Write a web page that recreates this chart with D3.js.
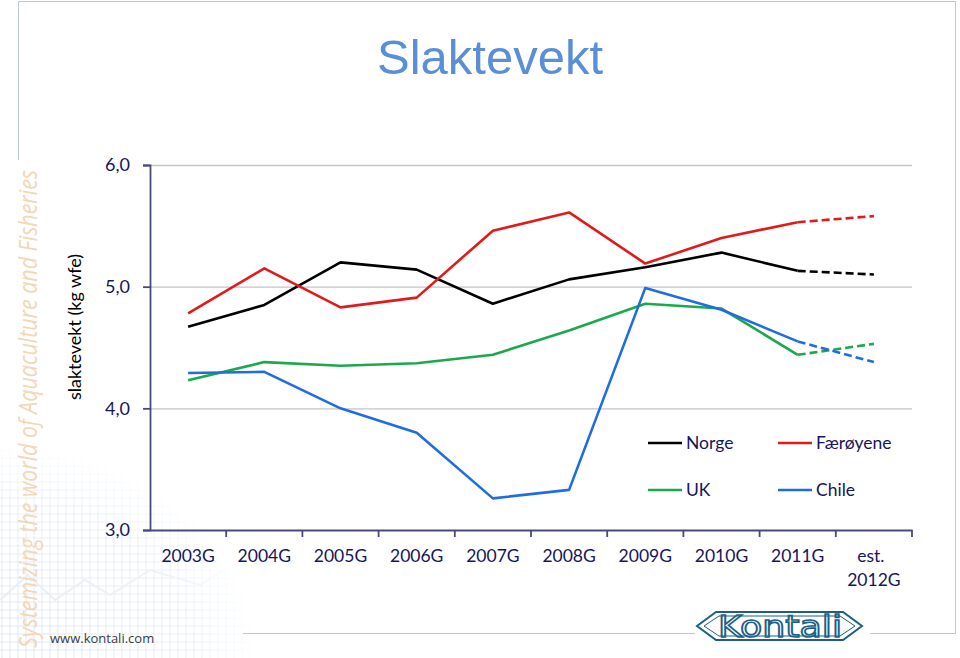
<!DOCTYPE html>
<html><head><meta charset="utf-8">
<script src="https://cdn.jsdelivr.net/npm/d3@7"></script>
<style>body{margin:0;background:#fff}svg{display:block}</style>
</head><body>
<svg id="c" width="960" height="658"></svg>
<script>
const categories = ["2003G","2004G","2005G","2006G","2007G","2008G","2009G","2010G","2011G","est. 2012G"];
const norge      = [4.67,4.85,5.20,5.14,4.86,5.06,5.16,5.28,5.13,5.10];
const faeroyene  = [4.78,5.15,4.83,4.91,5.46,5.61,5.19,5.40,5.53,5.58];
const uk         = [4.23,4.38,4.35,4.37,4.44,4.64,4.86,4.82,4.44,4.53];
const chile      = [4.29,4.30,4.00,3.80,3.26,3.33,4.99,4.81,4.55,4.38];
const yTicks = [3,4,5,6];
const seriesNames = ["Norge","Færøyene","UK","Chile"];
const seriesColors = ["#000000","#e01b1b","#1ca84e","#1f6de0"];
const series = [norge, faeroyene, uk, chile];

const svg = d3.select("#c");
const font = "Lato, 'Open Sans', sans-serif";
const navy = "#16165a";

// background grid decoration bottom-left
const defs = svg.append("defs");
const grad = defs.append("radialGradient").attr("id","fade").attr("cx","0").attr("cy","1").attr("r","1");
grad.append("stop").attr("offset","0").attr("stop-color","#fff").attr("stop-opacity",1);
grad.append("stop").attr("offset","0.75").attr("stop-color","#fff").attr("stop-opacity",0.6);
grad.append("stop").attr("offset","1").attr("stop-color","#fff").attr("stop-opacity",0);
defs.append("mask").attr("id","gm").append("rect").attr("x",0).attr("y",440).attr("width",260).attr("height",218).attr("fill","url(#fade)");
const gg = svg.append("g").attr("mask","url(#gm)").attr("stroke","#d4e2ee").attr("stroke-width",0.8);
for (let x = 2; x < 260; x += 8) gg.append("line").attr("x1",x).attr("x2",x).attr("y1",440).attr("y2",658);
for (let y = 442; y < 658; y += 8) gg.append("line").attr("x1",0).attr("x2",260).attr("y1",y).attr("y2",y);
gg.append("path").attr("d","M0,600 L28,575 L55,600 L85,580 L110,595 L150,570 L200,585 L240,560").attr("fill","none").attr("stroke","#e2ebf3").attr("stroke-width",2);

// frame
const frame = svg.append("g").attr("stroke","#b9cadf").attr("stroke-width",1).attr("fill","none");
frame.append("path").attr("d","M18.5,160 V1.5 H955.5 V633.5 H870");
frame.append("line").attr("x1",243).attr("x2",695).attr("y1",633.5).attr("y2",633.5);

// side text
svg.append("text").attr("transform","translate(37,648) rotate(-90)")
  .attr("font-family","'Open Sans', Lato, sans-serif").attr("font-style","italic")
  .attr("font-size",25.5).attr("fill","#f0d8b8").attr("textLength",478).attr("lengthAdjust","spacingAndGlyphs")
  .text("Systemizing the world of Aquaculture and Fisheries");

svg.append("text").attr("x",50).attr("y",643).attr("font-family","'Open Sans', sans-serif").attr("font-size",13)
  .attr("fill","#3a3a4a").text("www.kontali.com");

// title
svg.append("text").attr("x",490).attr("y",74).attr("text-anchor","middle")
  .attr("font-family","'Liberation Sans', Arial, sans-serif").attr("font-size",49).attr("fill","#5a8fd8").text("Slaktevekt");

// scales
const x = d3.scaleBand().domain(categories).range([150,912]);
const y = d3.scaleLinear().domain([3,6]).range([530,165]);

// gridlines
svg.append("g").selectAll("line").data(yTicks.filter(d=>d>3)).join("line")
  .attr("x1",150).attr("x2",912).attr("y1",d=>y(d)+0.5).attr("y2",d=>y(d)+0.5)
  .attr("stroke","#c4c4c4").attr("stroke-width",1.3);

// axes
const yAxis = svg.append("g").attr("transform","translate(150,0)")
  .call(d3.axisLeft(y).tickValues(yTicks).tickSize(7).tickPadding(13).tickFormat(d=>d3.format(".1f")(d).replace(".",",")));
const xAxis = svg.append("g").attr("transform","translate(0,530)")
  .call(d3.axisBottom(x).tickSize(0).tickPadding(0).tickFormat(""));
[yAxis,xAxis].forEach(a=>{a.select(".domain").attr("stroke","#4a4a78").attr("stroke-width",1.8);
  a.selectAll(".tick line").attr("stroke","#4a4a78").attr("stroke-width",1.8);});
yAxis.selectAll(".tick text").attr("font-family",font).attr("font-size",18).attr("fill",navy);
// x ticks at band boundaries
svg.append("g").selectAll("line").data(categories).join("line")
  .attr("x1",d=>x(d)+x.bandwidth()).attr("x2",d=>x(d)+x.bandwidth()).attr("y1",530).attr("y2",537)
  .attr("stroke","#4a4a78").attr("stroke-width",1.8);
svg.append("g").selectAll("text").data(categories).join("text")
  .attr("x",d=>x(d)+x.bandwidth()/2).attr("y",562).attr("text-anchor","middle")
  .attr("font-family",font).attr("font-size",17.5).attr("fill",navy)
  .each(function(d){
    const parts = d.split(" ");
    const t = d3.select(this);
    if (parts.length>1){
      t.append("tspan").attr("x",x(d)+x.bandwidth()/2 - 3).text(parts[0]);
      t.append("tspan").attr("x",x(d)+x.bandwidth()/2).attr("dy",24).text(parts[1]);
    } else t.text(d);
  });

// y title
svg.append("text").attr("transform","translate(81,327) rotate(-90)").attr("text-anchor","middle")
  .attr("font-family",font).attr("font-size",18).attr("fill","#000").text("slaktevekt (kg wfe)");

// lines
const cx = d => x(d)+x.bandwidth()/2;
const line = d3.line().x(d=>cx(d.c)).y(d=>y(d.v));
series.forEach((s,i)=>{
  const pts = s.map((v,j)=>({c:categories[j],v}));
  svg.append("path").datum(pts.slice(0,9)).attr("d",line).attr("fill","none")
    .attr("stroke",seriesColors[i]).attr("stroke-width",2.6).attr("stroke-linejoin","round");
  svg.append("path").datum(pts.slice(8)).attr("d",line).attr("fill","none")
    .attr("stroke",seriesColors[i]).attr("stroke-width",2.6).attr("stroke-dasharray","8,4");
});

// legend
const lg = svg.append("g");
const lpos = [[648,443],[778,443],[648,490],[778,490]];
seriesNames.forEach((n,i)=>{
  const [lx,ly] = lpos[i];
  lg.append("line").attr("x1",lx).attr("x2",lx+34).attr("y1",ly).attr("y2",ly).attr("stroke",seriesColors[i]).attr("stroke-width",2.6);
  lg.append("text").attr("x",lx+38).attr("y",ly+6).attr("font-family",font).attr("font-size",17.5).attr("fill",navy).text(n);
});

// Kontali logo
const logo = svg.append("g").attr("fill","none").attr("stroke","#1e5f86").attr("stroke-width",2);
logo.append("path").attr("d","M716,612 H843 L862,626 L843,640 H716 L697,626 Z");
logo.append("path").attr("d","M719,616 H840 L855,626 L840,636 H719 L704,626 Z").attr("stroke-width",1);
svg.append("line").attr("x1",680).attr("x2",694).attr("y1",633.5).attr("y2",633.5).attr("stroke","#b9cadf");
svg.append("text").attr("x",780).attr("y",637).attr("text-anchor","middle").attr("font-family","'DejaVu Sans', sans-serif")
  .attr("font-size",30).attr("fill","none").attr("stroke","#1e5f86").attr("stroke-width",1.6)
  .attr("textLength",124).attr("lengthAdjust","spacingAndGlyphs").text("Kontali");
</script>
</body></html>
